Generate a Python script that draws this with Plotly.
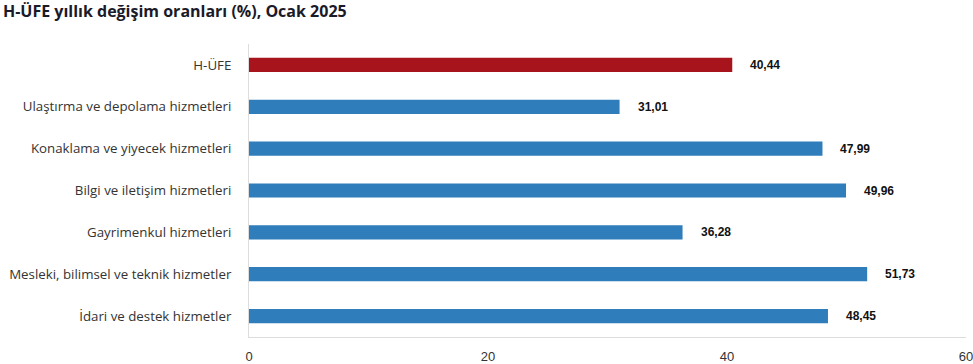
import plotly.graph_objects as go

categories = [
    "H-ÜFE",
    "Ulaştırma ve depolama hizmetleri",
    "Konaklama ve yiyecek hizmetleri",
    "Bilgi ve iletişim hizmetleri",
    "Gayrimenkul hizmetleri",
    "Mesleki, bilimsel ve teknik hizmetler",
    "İdari ve destek hizmetler",
]
values = [40.44, 31.01, 47.99, 49.96, 36.28, 51.73, 48.45]
value_labels = ["40,44", "31,01", "47,99", "49,96", "36,28", "51,73", "48,45"]
colors = ["#A8141C"] + ["#2F7DBA"] * 6

fig = go.Figure()
fig.add_trace(go.Bar(
    x=values, y=categories, orientation="h",
    marker=dict(color=colors, line=dict(width=0)),
    width=0.34, hoverinfo="skip",
))
for c, v, t in zip(categories, values, value_labels):
    fig.add_annotation(x=v, y=c, text=t, showarrow=False, xanchor="left",
                       xshift=16, yshift=0,
                       font=dict(family="Liberation Sans, Arial", size=12, color="#111111", weight="bold"))

fig.update_layout(
    width=973, height=364,
    margin=dict(l=249, r=7, t=44, b=27, autoexpand=False),
    paper_bgcolor="white", plot_bgcolor="white",
    showlegend=False,
    title=dict(text="<b>H-ÜFE yıllık değişim oranları (%), Ocak 2025</b>",
               x=0.003, xanchor="left", y=0.985, yanchor="top",
               font=dict(family="Open Sans", size=16, color="#1a1a28")),
    xaxis=dict(range=[0, 60], tickvals=[0, 20, 40, 60], showgrid=False,
               zeroline=False, showline=True, linecolor="#dddddd", linewidth=1,
               ticks="outside", ticklen=7, tickcolor="rgba(0,0,0,0)", automargin=False,
               ticklabeloverflow="allow",
               tickfont=dict(family="Liberation Sans Narrow, Liberation Sans", size=13, color="#333333")),
    yaxis=dict(categoryorder="array", categoryarray=categories[::-1],
               showgrid=False, zeroline=False, showline=True, linecolor="#dddddd",
               ticks="outside", ticklen=14, tickcolor="rgba(0,0,0,0)", automargin=False,
               tickfont=dict(family="Open Sans", size=13.3, color="#333333")),
)
fig.write_html("out.html", config={"displayModeBar": False})

with open("out.html", "r", encoding="utf-8") as f:
    html = f.read()
html = html.replace("<head>", "<head><style>html,body{margin:0;padding:0;overflow:hidden;}</style>", 1)
with open("out.html", "w", encoding="utf-8") as f:
    f.write(html)
